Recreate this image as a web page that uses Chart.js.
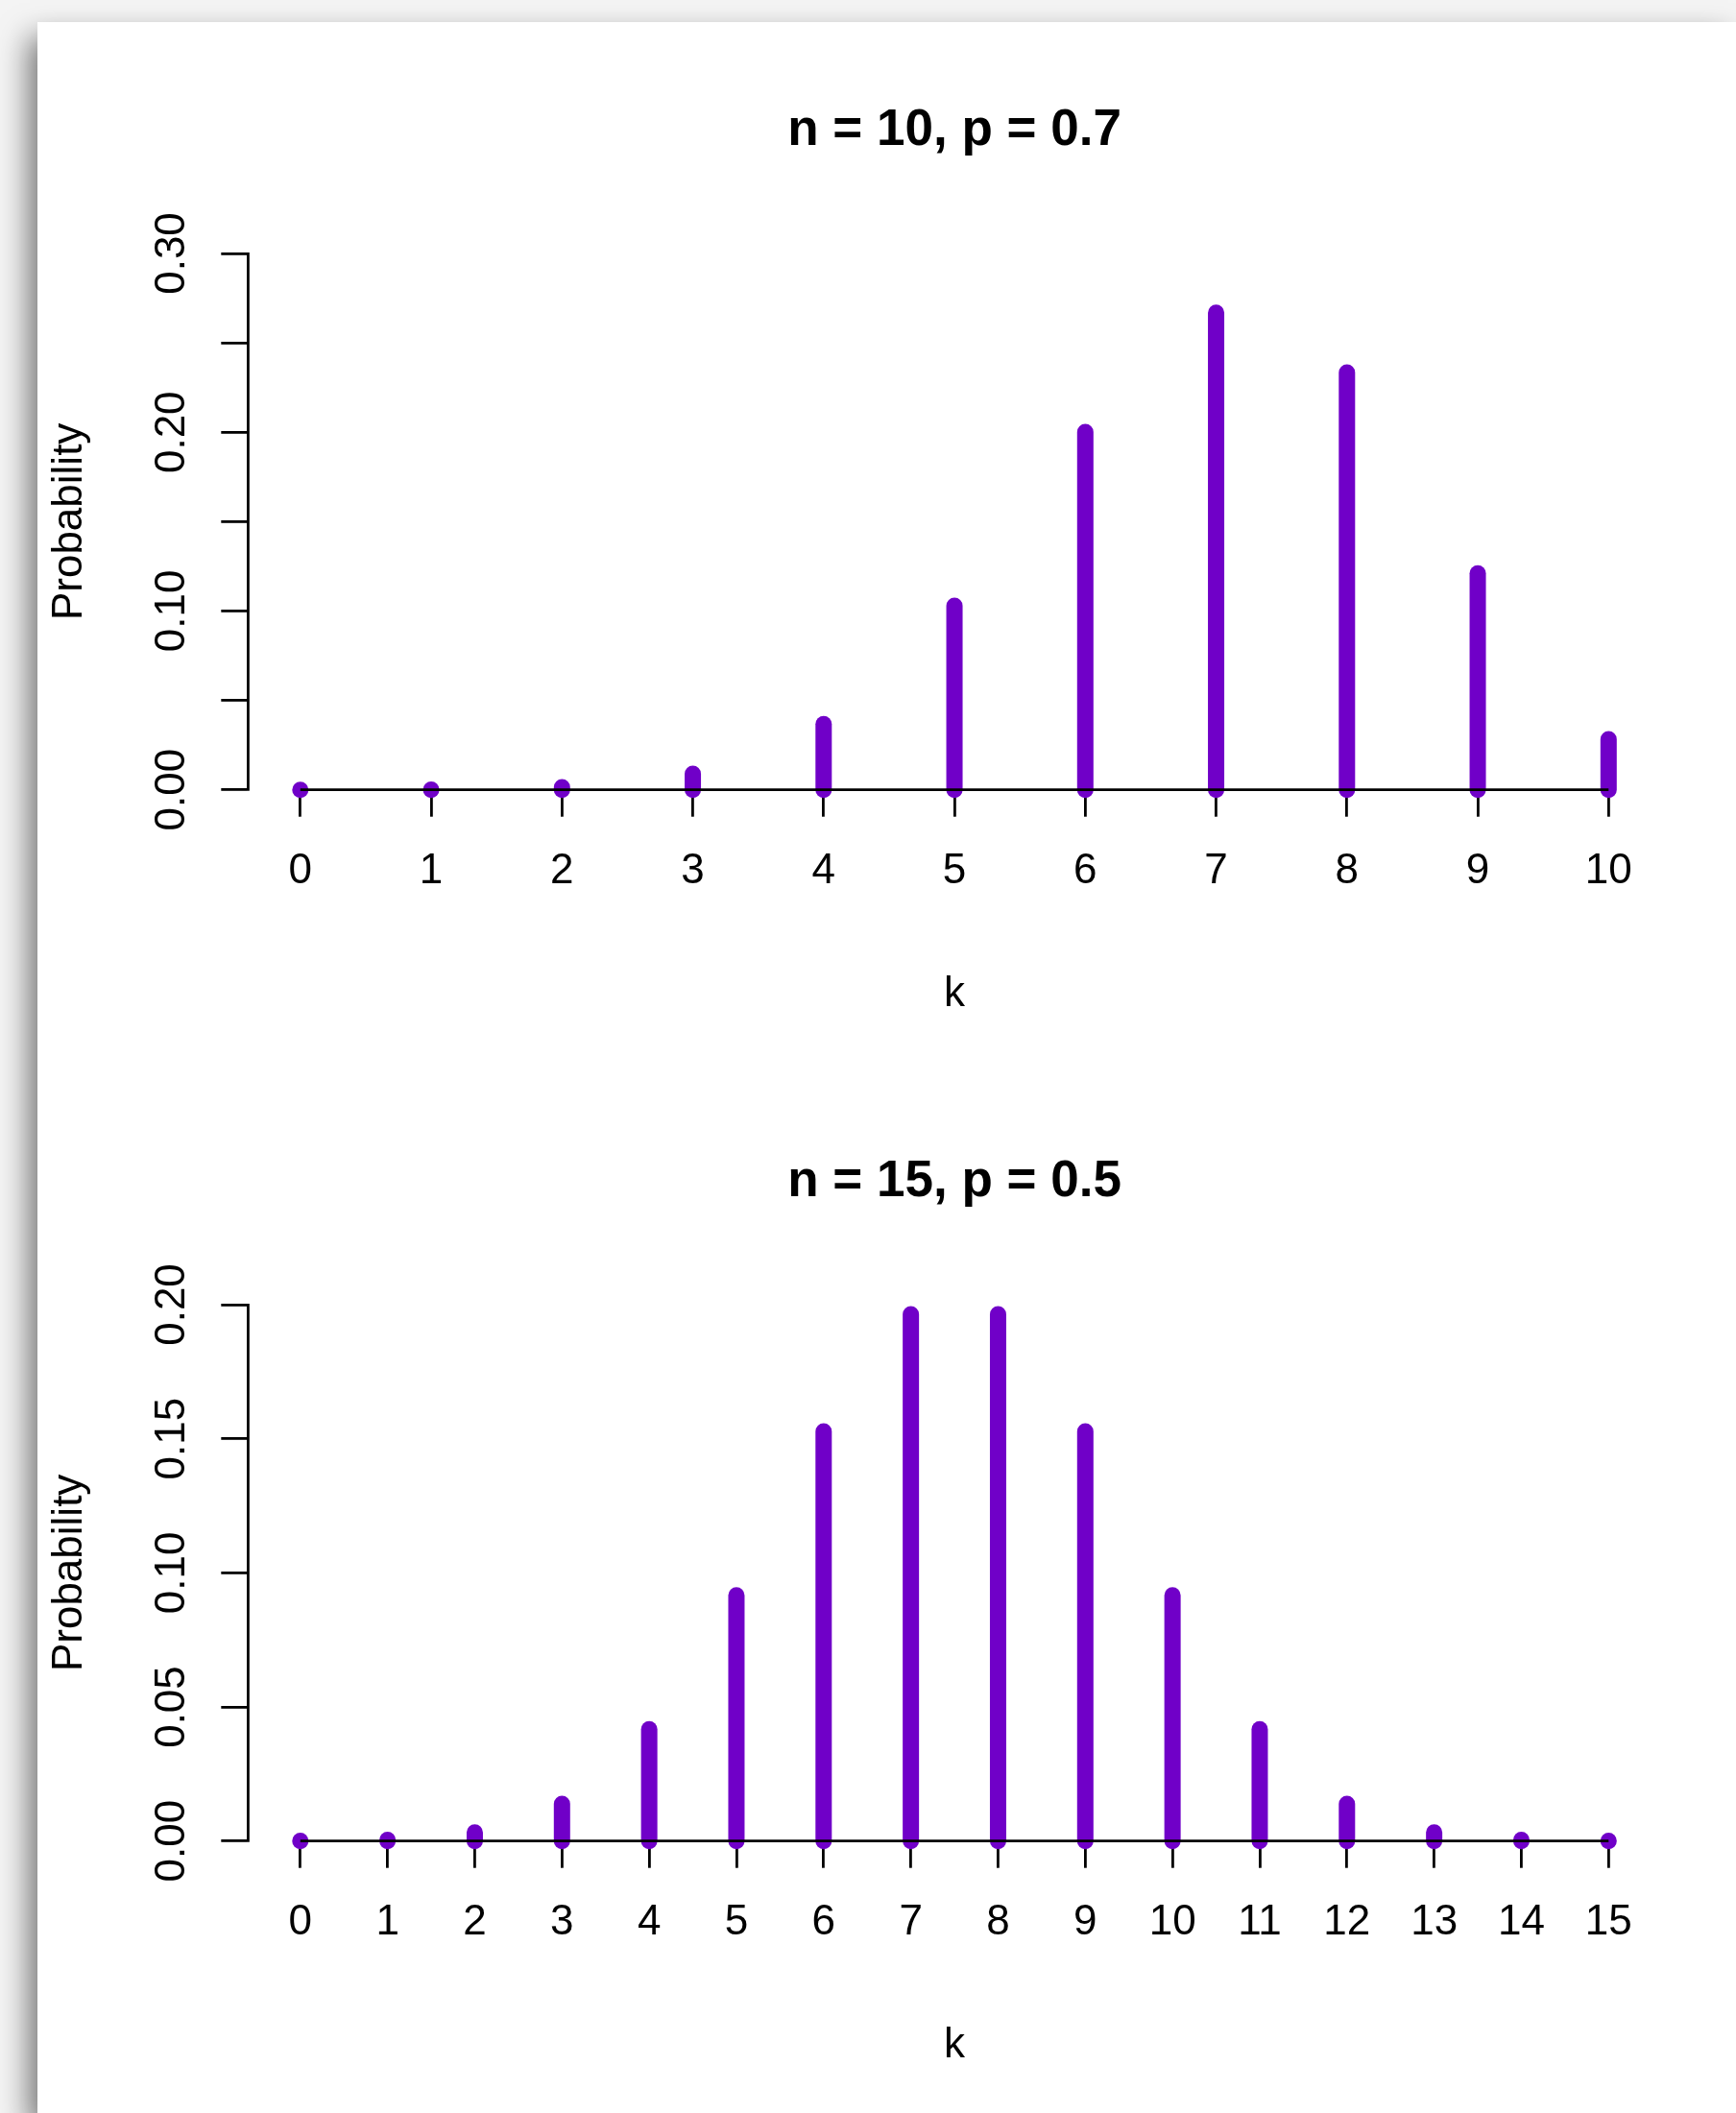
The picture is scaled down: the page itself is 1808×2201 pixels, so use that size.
<!DOCTYPE html>
<html>
<head>
<meta charset="utf-8">
<script src="https://cdn.jsdelivr.net/npm/chart.js@4.4.1/dist/chart.umd.min.js"></script>
<style>
  html, body { margin: 0; padding: 0; width: 1808px; height: 2201px; overflow: hidden; background: #f4f4f4; }
  #page { position: absolute; left: 39px; top: 23px; width: 1769px; height: 2178px; background: #ffffff;
          box-shadow: -8px 16px 30px rgba(0,0,0,0.55); }
  .wrap { position: absolute; left: 0; width: 1808px; height: 1095px; }
  canvas { display: block; }
</style>
</head>
<body>
<div id="page"></div>
<div class="wrap" style="top:0px"><canvas id="c1"></canvas></div>
<div class="wrap" style="top:1095px"><canvas id="c2"></canvas></div>
<script>
// ---- Data: Binomial(n = 10, p = 0.7) ----
const title1 = 'n = 10, p = 0.7';
const k1 = [0, 1, 2, 3, 4, 5, 6, 7, 8, 9, 10];
const prob1 = [0.0000059, 0.000138, 0.001447, 0.009002, 0.036757, 0.102919, 0.200121, 0.266828, 0.233474, 0.121061, 0.028248];
const yTicks1 = [0.00, 0.05, 0.10, 0.15, 0.20, 0.25, 0.30];
const yLabels1 = ['0.00', '', '0.10', '', '0.20', '', '0.30'];

// ---- Data: Binomial(n = 15, p = 0.5) ----
const title2 = 'n = 15, p = 0.5';
const k2 = [0, 1, 2, 3, 4, 5, 6, 7, 8, 9, 10, 11, 12, 13, 14, 15];
const prob2 = [0.0000305, 0.000458, 0.003204, 0.013885, 0.041656, 0.091644, 0.152740, 0.196381, 0.196381, 0.152740, 0.091644, 0.041656, 0.013885, 0.003204, 0.000458, 0.0000305];
const yTicks2 = [0.00, 0.05, 0.10, 0.15, 0.20];
const yLabels2 = ['0.00', '0.05', '0.10', '0.15', '0.20'];

const xTitle = 'k';
const yTitle = 'Probability';

// ---- Styling ----
const FONT = '"Liberation Sans", Arial, Helvetica, sans-serif';
const STEM_COLOR = '#7000c8';
const AXIS_W = 2.8;

const xAxisLine = {
  id: 'xAxisLine',
  afterDatasetsDraw(chart, args, opts) {
    const { ctx, scales: { x, y } } = chart;
    const ks = opts.ks;
    const yy = y.getPixelForValue(0);
    ctx.save();
    ctx.strokeStyle = '#000';
    ctx.lineWidth = AXIS_W;
    ctx.lineCap = 'butt';
    ctx.beginPath();
    ctx.moveTo(x.getPixelForValue(ks[0]), yy);
    ctx.lineTo(x.getPixelForValue(ks[ks.length - 1]), yy);
    ctx.stroke();
    ctx.restore();
  }
};

function makeChart(id, title, ks, probs, yTicks, yLabels, yMax) {
  const ext = (ks[ks.length - 1] - ks[0]) * 0.04;
  const datasets = ks.map((kv, i) => ({
    data: [{ x: kv, y: 0 }, { x: kv, y: probs[i] }],
    showLine: true,
    borderColor: STEM_COLOR,
    backgroundColor: STEM_COLOR,
    borderWidth: 17,
    borderCapStyle: 'round',
    borderJoinStyle: 'round',
    pointRadius: 0,
    pointHoverRadius: 0,
    clip: false
  }));
  return new Chart(document.getElementById(id), {
    type: 'scatter',
    data: { datasets },
    plugins: [xAxisLine],
    options: {
      responsive: true,
      maintainAspectRatio: false,
      animation: false,
      devicePixelRatio: 1,
      layout: { padding: { left: 0, right: 78.2, top: 0, bottom: 0 } },
      plugins: {
        legend: { display: false },
        tooltip: { enabled: false },
        xAxisLine: { ks },
        title: {
          display: true,
          fullSize: false,
          text: title,
          color: '#000',
          font: { family: FONT, size: 53, weight: 'bold', lineHeight: 1.2 },
          padding: { top: 104.3, bottom: 96.1 }
        }
      },
      scales: {
        x: {
          type: 'linear',
          position: 'bottom',
          min: ks[0] - ext,
          max: ks[ks.length - 1] + ext,
          z: 1,
          afterBuildTicks: (s) => { s.ticks = ks.map(v => ({ value: v })); },
          afterFit: (s) => { s.height = 272.3; },
          border: { display: false },
          grid: { drawOnChartArea: false, drawTicks: true, tickLength: 28, color: '#000', lineWidth: AXIS_W },
          ticks: {
            padding: 30.7, color: '#000', maxRotation: 0, autoSkip: false,
            font: { family: FONT, size: 44, lineHeight: 1.2 },
            callback: (v, i) => String(ks[i])
          },
          title: {
            display: true, text: xTitle, color: '#000',
            font: { family: FONT, size: 44, lineHeight: 1.2 },
            padding: { top: 0, bottom: 32.8 }
          }
        },
        y: {
          type: 'linear',
          position: 'left',
          min: 0,
          max: yMax,
          z: 1,
          afterBuildTicks: (s) => { s.ticks = yTicks.map(v => ({ value: v })); },
          afterFit: (s) => { s.width = 258.3; },
          border: { display: true, color: '#000', width: AXIS_W },
          grid: { drawOnChartArea: false, drawTicks: true, tickLength: 28, color: '#000', lineWidth: AXIS_W },
          ticks: {
            padding: 7.5, crossAlign: 'center', minRotation: 90, maxRotation: 90, color: '#000', autoSkip: false,
            font: { family: FONT, size: 44, lineHeight: 1.2 },
            callback: (v, i) => yLabels[i]
          },
          title: {
            display: true, text: yTitle, color: '#000',
            font: { family: FONT, size: 44, lineHeight: 1.2 },
            padding: { top: 46, bottom: 0 }
          }
        }
      }
    }
  });
}

makeChart('c1', title1, k1, prob1, yTicks1, yLabels1, yTicks1[yTicks1.length - 1]);
makeChart('c2', title2, k2, prob2, yTicks2, yLabels2, yTicks2[yTicks2.length - 1]);
</script>
</body>
</html>
